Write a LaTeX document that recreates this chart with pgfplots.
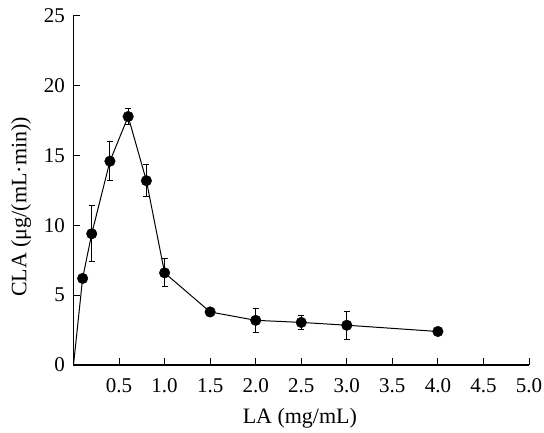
\documentclass[border=0pt]{standalone}
\usepackage{pgfplots}
\pgfplotsset{compat=1.18}
\usepackage{fontspec}
\setmainfont{Liberation Serif}

\begin{document}
\begin{tikzpicture}
\path[use as bounding box] (-73.5pt,-68pt) rectangle (470.5pt,365pt);
\begin{axis}[
  scale only axis,
  width=455.5pt, height=349pt,
  xmin=0, xmax=5, ymin=0, ymax=25,
  axis x line=bottom, axis y line=left,
  axis line style={-, line width=1.1pt},
  tick align=inside,
  major tick length=7pt,
  tick style={line width=1pt, black},
  xtick={0.5,1,...,5},
  ytick={0,5,...,25},
  xticklabel style={yshift=-10pt, /pgf/number format/.cd, fixed, fixed zerofill, precision=1},
  yticklabel style={xshift=-5pt},
  /pgf/number format/assume math mode=true,
  tick label style={font=\fontsize{21}{24}\selectfont},
  label style={font=\fontsize{22}{25}\selectfont},
  xlabel={LA (mg/mL)},
  ylabel={CLA (μg/(mL·min))},
  xlabel style={at={(axis description cs:0.497,-0.152)}, anchor=center},
  ylabel style={at={(axis description cs:-0.115,0.453)}, anchor=center},
  clip=false,
]
\addplot[black, line width=1pt, mark=none] coordinates {
  (0,0) (0.1,6.2) (0.2,9.4) (0.4,14.6) (0.6,17.8) (0.8,13.2) (1.0,6.6)
  (1.5,3.8) (2.0,3.2) (2.5,3.05) (3.0,2.85) (4.0,2.4)
};
\addplot[black, only marks, mark=*, mark size=5.3pt,
  error bars/.cd, y dir=both, y explicit,
  error bar style={line width=1pt, black},
  error mark options={rotate=90, mark size=3pt, line width=1pt, black}]
  coordinates {
  (0.1,6.2) +- (0,0)
  (0.2,9.4) +- (0,2.0)
  (0.4,14.6) +- (0,1.4)
  (0.6,17.8) +- (0,0.6)
  (0.8,13.2) +- (0,1.15)
  (1.0,6.6) +- (0,1.0)
  (1.5,3.8) +- (0,0)
  (2.0,3.2) +- (0,0.85)
  (2.5,3.05) +- (0,0.5)
  (3.0,2.85) +- (0,1.0)
  (4.0,2.4) +- (0,0)
};
\end{axis}
\end{tikzpicture}
\end{document}
